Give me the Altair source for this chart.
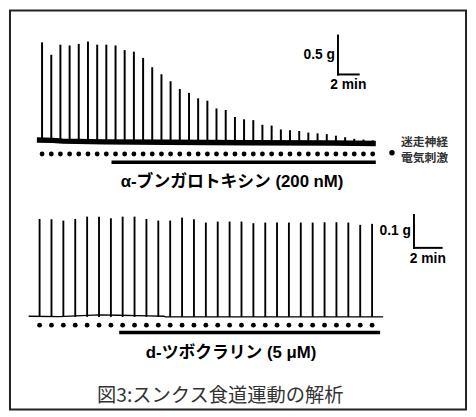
import altair as alt
import pandas as pd

# ---------------- Panel A: alpha-bungarotoxin ----------------
A_TIMES = [0.00, 0.89, 1.77, 2.66, 3.54, 4.43, 5.32, 6.20, 7.09, 7.97, 8.86, 9.75,
           10.63, 11.52, 12.40, 13.29, 14.18, 15.06, 15.95, 16.83, 17.72, 18.61,
           19.49, 20.38, 21.26, 22.15, 23.04, 23.92, 24.81, 25.69, 26.58, 27.47,
           28.35, 29.24, 30.12, 31.01, 31.90]
A_AMPS = [1.28, 1.12, 1.25, 1.24, 1.26, 1.29, 1.25, 1.25, 1.24, 1.18, 1.16, 1.08,
          0.96, 0.87, 0.78, 0.68, 0.63, 0.56, 0.53, 0.43, 0.41, 0.32, 0.29, 0.28,
          0.22, 0.21, 0.16, 0.15, 0.14, 0.12, 0.11, 0.10, 0.08, 0.06, 0.04, 0.03, 0.02]
A_BASE_T = [-0.5, 1.0, 2.0, 6.0, 12.0, 20.0, 28.0, 32.2]
A_BASE_G = [0.025, 0.02, 0.01, 0.0, -0.005, -0.01, -0.015, -0.02]
A_DRUG = [6.7, 32.2]
A_LABEL = "α-ブンガロトキシン (200 nM)"
A_BAR = [28.55, 0.867, 2.0, 0.5]          # t, g, 2 min, 0.5 g
A_BAR_TEXT = ["0.5 g", "2 min"]

# ---------------- Panel B: d-tubocurarine ----------------
B_TIMES = [0.00, 0.86, 1.72, 2.58, 3.44, 4.30, 5.16, 6.01, 6.87, 7.73, 8.59, 9.45,
           10.31, 11.17, 12.03, 12.89, 13.75, 14.61, 15.47, 16.33, 17.18, 18.04,
           18.90, 19.76, 20.62, 21.48, 22.34, 23.20, 24.06]
B_AMPS = [0.298, 0.297, 0.293, 0.298, 0.305, 0.305, 0.300, 0.305, 0.305, 0.298,
          0.293, 0.293, 0.302, 0.297, 0.287, 0.290, 0.290, 0.290, 0.285, 0.287,
          0.287, 0.287, 0.287, 0.287, 0.288, 0.288, 0.287, 0.280, 0.283]
B_BASE_T = [-0.79, 1.4, 4.3, 5.7, 7.9, 9.0, 9.1, 15.0, 24.86]
B_BASE_G = [0.002, 0.001, 0.006, 0.005, 0.003, 0.002, 0.0, 0.0, 0.0]
B_DRUG = [5.76, 24.64]
B_LABEL = "d-ツボクラリン (5 μM)"
B_BAR = [27.09, 0.210, 2.0, 0.1]          # t, g, 2 min, 0.1 g
B_BAR_TEXT = ["0.1 g", "2 min"]

LEGEND_LINES = ["迷走神経", "電気刺激"]
CAPTION = "図3:スンクス食道運動の解析"

LATIN = "Liberation Sans, Noto Sans CJK JP"
CJK = "Noto Sans CJK JP"

W, H = 462, 404


def panel(times, amps, base_t, base_g, drug, bar, bar_text, xdom, ydom,
          spike_w, base_w, dot_y, drug_y, label, label_xy, label_size):
    xs = alt.Scale(domain=xdom, nice=False, zero=False)
    ys = alt.Scale(domain=ydom, nice=False, zero=False)
    spikes = pd.DataFrame({"t": times, "amp": amps, "base": [0.0] * len(times)})
    base = pd.DataFrame({"t": base_t, "g": base_g})
    drugdf = pd.DataFrame({"start": [drug[0]], "end": [drug[1]]})
    bt, bg, bdt, bdg = bar
    bardf = pd.DataFrame({"t": [bt], "t2": [bt + bdt], "g": [bg], "g2": [bg + bdg],
                          "tm": [bt + bdt / 2], "gm": [bg + bdg / 2],
                          "gl": [bar_text[0]], "tl": [bar_text[1]]})

    X = lambda f: alt.X(f, scale=xs, axis=None)
    Y = lambda f: alt.Y(f, scale=ys, axis=None)

    l_base = alt.Chart(base).mark_line(color="black", strokeWidth=base_w).encode(
        x=X("t:Q"), y=Y("g:Q"))
    l_spk = alt.Chart(spikes).mark_rule(color="black", strokeWidth=spike_w).encode(
        x=X("t:Q"), y=Y("base:Q"), y2="amp:Q")
    l_dots = alt.Chart(spikes).mark_circle(color="black", size=24, opacity=1).encode(
        x=X("t:Q"), y=alt.value(dot_y))
    l_drug = alt.Chart(drugdf).mark_rule(color="black", strokeWidth=3.5).encode(
        x=X("start:Q"), x2="end:Q", y=alt.value(drug_y))
    l_v = alt.Chart(bardf).mark_rule(color="black", strokeWidth=2, strokeCap="square").encode(
        x=X("t:Q"), y=Y("g:Q"), y2="g2:Q")
    l_h = alt.Chart(bardf).mark_rule(color="black", strokeWidth=2, strokeCap="square").encode(
        x=X("t:Q"), x2="t2:Q", y=Y("g:Q"))
    l_gl = alt.Chart(bardf).mark_text(align="right", baseline="middle", dx=-3,
                                      font=LATIN, fontWeight="bold", fontSize=14,
                                      color="black").encode(
        x=X("t:Q"), y=Y("gm:Q"), text="gl:N")
    l_tl = alt.Chart(bardf).mark_text(align="center", baseline="middle", dy=11,
                                      font=LATIN, fontWeight="bold", fontSize=14,
                                      color="black").encode(
        x=X("tm:Q"), y=Y("g:Q"), text="tl:N")
    l_lab = alt.Chart(pd.DataFrame({"s": [label]})).mark_text(
        align="center", baseline="middle", font=LATIN, fontWeight="bold",
        fontSize=label_size, color="black").encode(
        x=alt.value(label_xy[0]), y=alt.value(label_xy[1]), text="s:N")
    return alt.layer(l_base, l_spk, l_dots, l_drug, l_v, l_h, l_gl, l_tl, l_lab)


panelA = panel(A_TIMES, A_AMPS, A_BASE_T, A_BASE_G, A_DRUG, A_BAR, A_BAR_TEXT,
               [-3.095, 40.905], [-3.439, 1.688], 2, 5.5, 145.3, 153.7,
               A_LABEL, (225, 173.7), 17)
panelB = panel(B_TIMES, B_AMPS, B_BASE_T, B_BASE_G, B_DRUG, B_BAR, B_BAR_TEXT,
               [-2.143, 30.857], [-0.2814, 0.9318], 1.9, 1.3, 318.7, 326,
               B_LABEL, (224, 347), 17)

one = pd.DataFrame({"a": [0]})
leg_dot = alt.Chart(one).mark_circle(color="black", size=30, opacity=1).encode(
    x=alt.value(387), y=alt.value(144))
leg_txt = alt.Chart(pd.DataFrame({"s": LEGEND_LINES, "y": [133, 149]})).mark_text(
    align="left", baseline="middle", font=CJK, fontWeight="bold", fontSize=12,
    color="#333").encode(x=alt.value(396), y=alt.Y("y:Q", scale=None, axis=None), text="s:N")
caption = alt.Chart(pd.DataFrame({"s": [CAPTION]})).mark_text(
    align="center", baseline="middle", font=CJK, fontSize=19.5, color="#333").encode(
    x=alt.value(213), y=alt.value(390), text="s:N")
notes = alt.layer(leg_dot, leg_txt, caption)

chart = alt.layer(panelA, panelB, notes).resolve_scale(
    x="independent", y="independent"
).properties(
    width=W, height=H, autosize="none",
    padding={"left": 2, "top": 0, "right": 2, "bottom": 0},
    background="white",
).configure_view(stroke="#222", strokeWidth=2)

chart.save("out.html", embed_options={"renderer": "svg", "actions": False})
